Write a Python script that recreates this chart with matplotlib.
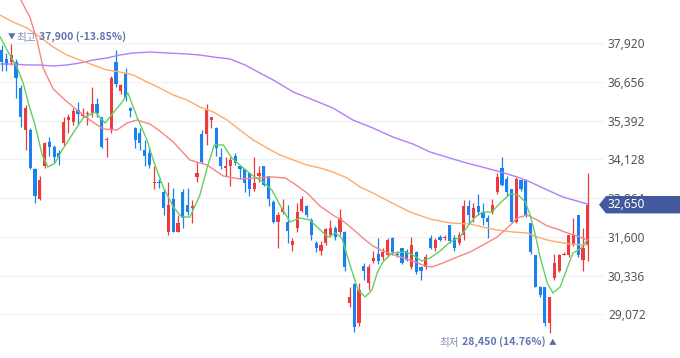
import matplotlib
matplotlib.use("Agg")
import matplotlib.pyplot as plt
from matplotlib.patches import Polygon
from matplotlib.transforms import IdentityTransform
import numpy as np

# 일봉 시세 (124일)
opens = [37700, 37400, 37300, 37300, 36450, 35100, 35100, 33800, 32850, 33900,
         34700, 34550, 34350, 34650, 35400, 35350, 35750, 35550, 35600, 35650,
         35950, 35500, 34750, 35100, 37300, 36350, 36950, 35800, 35150, 35000,
         34450, 34350, 33350, 33400, 33050, 31750, 32850, 31750, 33050, 32650,
         32550, 33550, 34950, 34950, 35400, 35150, 34200, 33850, 33900, 34250,
         33900, 33800, 33700, 33150, 33600, 33900, 33600, 32750, 32100, 32400,
         32100, 31350, 31900, 32450, 32600, 32150, 31400, 31150, 31400, 31650,
         31900, 31750, 31750, 29450, 30050, 28800, 30650, 30100, 30800, 31050,
         30950, 31000, 31550, 31050, 31250, 31150, 30600, 31100, 30600, 30600,
         31550, 31250, 31600, 31550, 32000, 31550, 31400, 31650, 32600, 32200,
         32600, 32400, 32200, 32400, 33050, 33850, 33500, 33150, 32100, 33450,
         33450, 32050, 31000, 29950, 29950, 28800, 30250, 30500, 31000, 31000,
         31350, 32300, 30850, 31350]
highs = [37850, 37600, 37900, 37400, 36550, 35900, 35150, 33850, 33600, 34700,
         34850, 34600, 34450, 35500, 35600, 35800, 36000, 35800, 35700, 36500,
         36150, 35500, 34850, 36850, 37700, 36600, 37100, 35850, 35200, 35150,
         34750, 34500, 33900, 33500, 33150, 33400, 33200, 32300, 33150, 33200,
         32800, 34050, 35100, 35950, 35500, 35200, 34500, 34200, 34200, 34350,
         33950, 33800, 33700, 34200, 33900, 33900, 33600, 32800, 32400, 32850,
         32650, 31550, 32700, 32950, 32650, 32200, 31450, 31450, 31900, 32150,
         31950, 32500, 31800, 29950, 30100, 30100, 30750, 30700, 31150, 31550,
         31250, 31550, 31600, 31150, 31250, 31200, 31600, 31150, 30650, 31050,
         31650, 31550, 31650, 31650, 32000, 31650, 31750, 32800, 32800, 32700,
         33000, 32700, 32300, 32850, 33700, 34200, 33600, 33150, 33550, 33450,
         33500, 32050, 31000, 30000, 29950, 29650, 31050, 31050, 31100, 31650,
         32200, 32300, 31900, 33700]
lows = [37000, 37000, 37200, 36150, 35200, 34450, 33800, 32700, 32800, 33850,
        34250, 34050, 33950, 34600, 35000, 35250, 35300, 35500, 35250, 35500,
        35500, 34500, 34200, 35000, 36500, 36250, 36050, 35500, 34500, 34450,
        33900, 33850, 33150, 33200, 32300, 31650, 31750, 31750, 31900, 32300,
        32050, 33400, 34000, 34600, 35150, 34250, 33800, 33600, 33250, 33950,
        33500, 33050, 32950, 33100, 33400, 33250, 32600, 32050, 31250, 32350,
        31400, 31150, 31750, 32400, 32250, 31500, 31100, 31000, 31350, 31600,
        31500, 31650, 30500, 29300, 28500, 28700, 30200, 29850, 30750, 30700,
        30850, 30950, 31000, 30950, 30700, 30800, 30550, 30400, 30200, 30550,
        31200, 31150, 31450, 31500, 31400, 31150, 31350, 31500, 32050, 32100,
        32300, 32000, 31550, 32350, 33000, 33250, 32950, 32050, 32050, 33100,
        32250, 31050, 29950, 29650, 28700, 28450, 30200, 30450, 31000, 30950,
        31300, 30950, 30500, 30800]
closes = [37300, 37200, 37550, 36800, 35500, 35800, 33850, 32950, 33450, 34650,
          34550, 34200, 34200, 35350, 35500, 35700, 35600, 35600, 35650, 35950,
          35650, 34550, 34800, 36800, 36600, 36550, 36150, 35700, 34750, 34650,
          34250, 33950, 33400, 33350, 32550, 32650, 31750, 32050, 32200, 32400,
          32600, 33700, 34050, 35750, 35500, 34500, 33900, 33900, 34100, 34000,
          33800, 33350, 33150, 33350, 33700, 33300, 32850, 32100, 32300, 32550,
          31800, 31450, 32400, 32850, 32300, 31650, 31250, 31350, 31850, 31900,
          31600, 32200, 30600, 29650, 28650, 29850, 30500, 30600, 30900, 30800,
          31100, 31500, 31100, 31000, 30750, 30850, 31350, 30450, 30500, 30950,
          31250, 31500, 31500, 31600, 31450, 31250, 31650, 32600, 32300, 32550,
          32400, 32200, 32100, 32650, 33550, 33300, 33050, 32100, 33500, 33150,
          32300, 31100, 29950, 29700, 28800, 29650, 30750, 31000, 31050, 31650,
          31650, 31000, 31250, 32650]

# 이동평균선 (차트에서 읽은 값, x = 봉 위치)
ma5_x = [-0.3, 1.1, 3.2, 4.5, 5.9, 7.0, 8.5, 9.7, 11.2, 12.7, 15.0, 17.1, 19.6,
         21.7, 23.2, 25.3, 26.5, 28.4, 30.5, 31.8, 33.9, 36.0, 37.8, 39.5, 41.6,
         43.1, 44.6, 46.5, 48.3, 50.7, 52.8, 54.9, 56.7, 58.4, 60.5, 62.6, 64.7,
         66.4, 68.5, 70.0, 71.4, 73.1, 74.8, 76.3, 77.7, 78.8, 80.0, 81.9, 84.7,
         86.3, 88.2, 89.9, 92.0, 94.1, 96.2, 97.7, 99.4, 101.0, 102.9, 104.6,
         106.7, 108.4, 109.9, 110.9, 111.9, 113.0, 114.5, 115.7, 117.2, 118.7,
         119.9, 121.4, 122.9]
ma5_y = [38126, 37701, 37146, 36624, 35808, 35253, 34273, 33881, 34012, 34436,
         34992, 35481, 35677, 35318, 35612, 36004, 36298, 35514, 34763, 34110,
         33228, 32575, 32249, 32249, 32967, 33849, 34600, 34600, 34175, 33849,
         33588, 33392, 33130, 32641, 32086, 32216, 32151, 31890, 31596, 31727,
         31563, 30682, 29865, 29637, 29865, 30420, 30780, 31074, 31106, 31008,
         30812, 30910, 31139, 31433, 31596, 31922, 32249, 32412, 32412, 32706,
         33000, 32967, 32739, 32314, 31727, 30943, 30094, 29768, 29964, 30584,
         31074, 31204, 31498]
ma20_x = [3.5, 5.1, 5.9, 7.4, 8.7, 10.8, 13.3, 15.8, 18.5, 21.3, 24.2, 26.3,
          28.4, 31.1, 33.2, 36.0, 39.5, 43.1, 46.5, 50.0, 53.6, 56.9, 59.5,
          61.2, 64.1, 66.8, 69.5, 71.6, 73.7, 75.8, 77.9, 80.0, 83.0, 86.3,
          88.9, 90.3, 92.6, 95.6, 98.3, 101.0, 104.0, 106.1, 108.2, 110.3,
          112.4, 114.5, 116.6, 118.7, 120.8, 122.9]
ma20_y = [39500, 39008, 38779, 38028, 37114, 36428, 36069, 35742, 35416, 35122,
          35089, 35318, 35416, 35285, 35057, 34698, 34110, 33947, 33588, 33490,
          33522, 33555, 33522, 33359, 33033, 32608, 32314, 32118, 31857, 31563,
          31302, 31139, 30976, 30813, 30649, 30616, 30747, 30943, 31106, 31335,
          31596, 31890, 32216, 32314, 32151, 31955, 31857, 31727, 31629, 31498]
ma60_x = [-0.4, 2.4, 5.3, 8.0, 10.8, 13.7, 16.4, 19.2, 22.1, 24.8, 27.6, 30.5,
          33.2, 36.0, 38.9, 41.6, 44.4, 47.3, 50.0, 52.8, 55.7, 58.4, 61.2,
          64.1, 66.8, 69.5, 72.5, 75.2, 77.9, 81.5, 85.7, 89.9, 94.1, 98.3,
          101.0, 104.0, 107.3, 110.3, 112.4, 114.5, 116.6, 119.3, 122.9]
ma60_y = [38844, 38616, 38420, 38126, 37799, 37538, 37375, 37212, 37048, 36983,
          36885, 36657, 36461, 36232, 36069, 35840, 35677, 35416, 35089, 34763,
          34502, 34273, 34110, 33947, 33849, 33718, 33522, 33228, 33033, 32739,
          32412, 32184, 32053, 32020, 31922, 31824, 31759, 31727, 31596, 31498,
          31433, 31367, 31335]
ma120_x = [-0.4, 2.4, 5.3, 8.0, 10.8, 13.7, 16.4, 19.2, 22.1, 24.8, 27.6, 31.1,
           34.7, 38.9, 41.6, 44.4, 47.9, 51.1, 54.2, 57.0, 61.2, 65.4, 69.5,
           73.7, 77.9, 82.1, 86.3, 89.9, 96.8, 104.0, 108.2, 110.9, 114.5,
           117.8, 122.9]
ma120_y = [37244, 37244, 37212, 37212, 37179, 37212, 37277, 37375, 37440, 37538,
           37604, 37636, 37604, 37571, 37538, 37473, 37408, 37212, 36951, 36722,
           36330, 36069, 35808, 35416, 35155, 34861, 34632, 34371, 34045, 33751,
           33555, 33392, 33130, 32902, 32673]

y_ticks = [29072, 30336, 31600, 32864, 34128, 35392, 36656, 37920]
last_price = 32650
max_idx, max_price, max_text = 2, 37900, "37,900 (-13.85%)"
min_idx, min_price, min_text = 115, 28450, "28,450 (14.76%)"

up_col = "#ee3a3c"
down_col = "#1b80f0"
kfont = ["Noto Sans CJK KR", "DejaVu Sans"]

fig = plt.figure(figsize=(6.8, 3.58), dpi=100)
ax = fig.add_axes([0, 0, 603 / 680, 1])

x = np.arange(len(opens))
o = np.array(opens)
c = np.array(closes)
cols = np.where(c >= o, up_col, down_col)
body_lo = np.minimum(o, c)
body_h = np.maximum(np.abs(c - o), 30)

ax.vlines(x, lows, highs, colors=cols, linewidth=0.9, zorder=2)
ax.bar(x, body_h, bottom=body_lo, width=0.66, color=cols, linewidth=0, zorder=2)

ax.plot(ma120_x, ma120_y, color="#b27ef7", lw=1.0, zorder=3)
ax.plot(ma60_x, ma60_y, color="#fdac6a", lw=1.0, zorder=3)
ax.plot(ma20_x, ma20_y, color="#f98585", lw=1.0, zorder=3)
ax.plot(ma5_x, ma5_y, color="#62d062", lw=1.0, zorder=3)

ax.set_xlim(-0.357, 126.2)
ax.set_ylim(27645, 39334)
for t in y_ticks:
    ax.axhline(t, color="#f1f2f6", lw=1.0, zorder=0)

ax.yaxis.tick_right()
ax.set_yticks(y_ticks)
ax.set_yticklabels([f"{t:,}" for t in y_ticks])
ax.tick_params(axis="y", length=0, pad=3.6, labelsize=8.6, labelcolor="#555555")
for lab in ax.get_yticklabels():
    lab.set_family("Noto Sans")
ax.set_xticks([])
for s in ax.spines.values():
    s.set_visible(False)

# 현재가 배지
ident = IdentityTransform()
_, py = ax.transData.transform((0, last_price))
badge = Polygon([(599, py), (606, py + 8.7), (680, py + 8.7),
                 (680, py - 8.7), (606, py - 8.7)],
                closed=True, facecolor="#42599e", edgecolor="none",
                transform=ident, zorder=5)
fig.add_artist(badge)
fig.text(608, py, f"{last_price:,}", transform=ident, ha="left", va="center",
         color="white", fontsize=8.6, family="Noto Sans", zorder=6)

fig.canvas.draw()
r = fig.canvas.get_renderer()
lab_col = "#6275ae"

# 최고가 표시
hx, hy = ax.transData.transform((max_idx, max_price))
fig.text(hx, hy + 6, "▼", transform=ident, ha="center", va="center",
         fontsize=5.5, color="#5b6ea8", family=kfont)
t2 = fig.text(hx + 5, hy + 6, "최고", transform=ident, ha="left", va="center",
              fontsize=7.6, color="#7d8cbd", family=kfont)
x1 = t2.get_window_extent(r).x1
fig.text(x1 + 3, hy + 6, max_text, transform=ident, ha="left", va="center",
         fontsize=7.6, color=lab_col, fontweight="bold", family=kfont)

# 최저가 표시
lx, ly = ax.transData.transform((min_idx, min_price))
fig.text(lx + 2.5, ly - 9.5, "▲", transform=ident, ha="center", va="center",
         fontsize=5.5, color="#5b6ea8", family=kfont)
t4 = fig.text(lx - 4, ly - 9.5, min_text, transform=ident, ha="right", va="center",
              fontsize=7.6, color=lab_col, fontweight="bold", family=kfont)
x0 = t4.get_window_extent(r).x0
fig.text(x0 - 3, ly - 9.5, "최저", transform=ident, ha="right", va="center",
         fontsize=7.6, color="#7d8cbd", family=kfont)

fig.savefig("out.png", dpi=100)
